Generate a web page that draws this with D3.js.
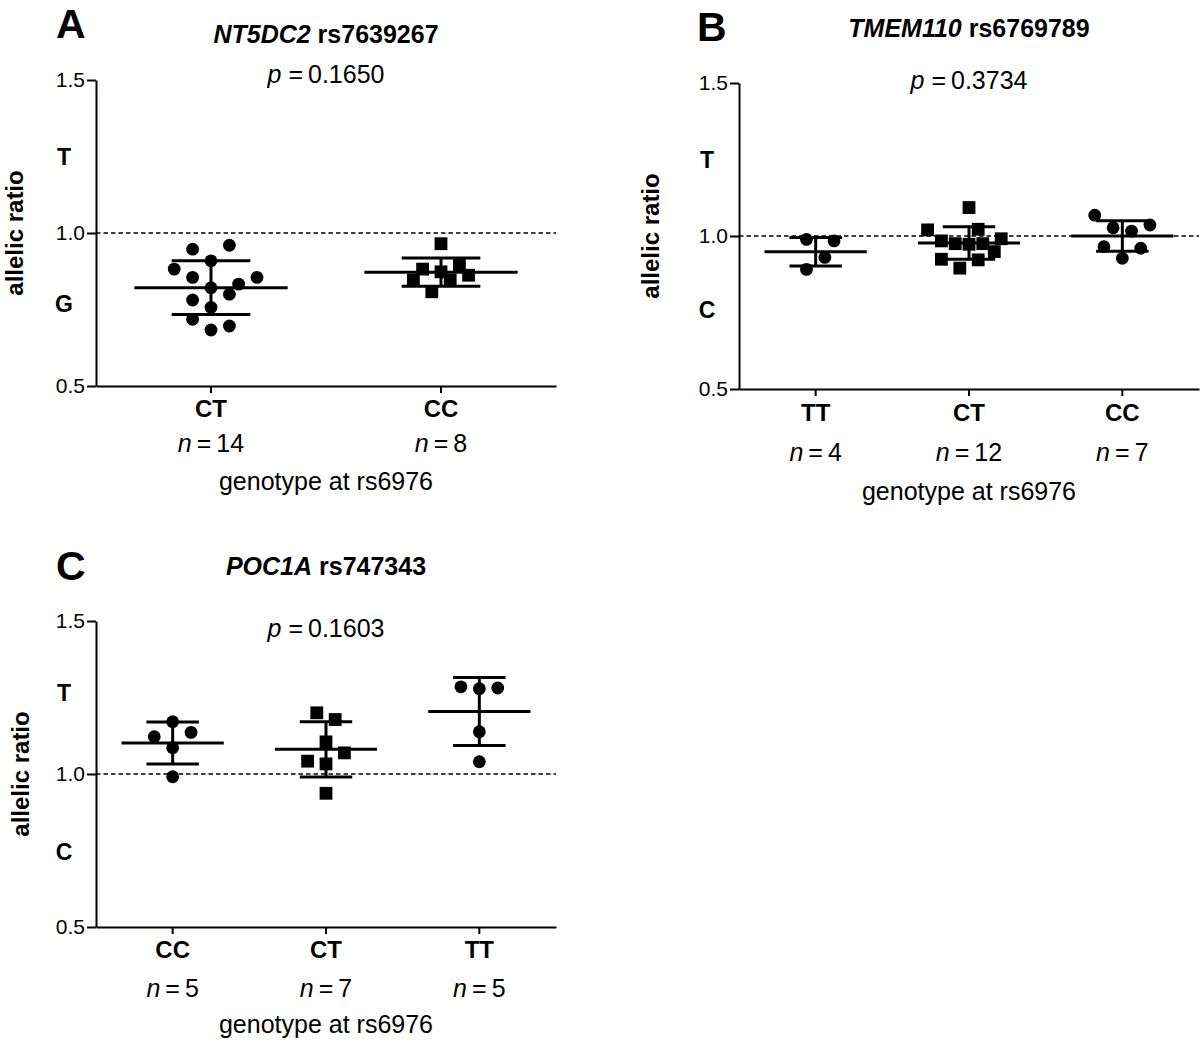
<!DOCTYPE html>
<html>
<head>
<meta charset="utf-8">
<script src="https://cdnjs.cloudflare.com/ajax/libs/d3/7.8.5/d3.min.js"></script>
<style>
  body { margin: 0; background: #fff; }
  svg { display: block; font-family: "Liberation Sans", Arial, Helvetica, sans-serif; }
</style>
</head>
<body>
<div id="figure"></div>
<script>
"use strict"

// Shared y axis ticks (allelic ratio)
const yTicks = [0.5, 1.0, 1.5];
const xAxisTitle = "genotype at rs6976";

// Panel A: NT5DC2 rs7639267
const genotypesA = ["CT", "CC"];
const symbolsA = ["circle", "square"];
const ratiosA_CT = [0.947, 0.960, 0.909, 0.882, 0.855, 0.855, 0.821, 0.833, 0.800, 0.781, 0.757, 0.718, 0.696, 0.683];
const ratiosA_CC = [0.965, 0.882, 0.895, 0.873, 0.862, 0.846, 0.846, 0.808];
// horizontal spread of the dots, in half-marker steps
const jitterA_CT = [-2, 2, 0, -4, -2, 5, 0, 3, 2, -2, 0, -2, 2, 0];
const jitterA_CC = [0, -2, 2, 0, 3, -3, 1, -1];
const allelesA = ["T", "G"];

// Panel B: TMEM110 rs6769789
const genotypesB = ["TT", "CT", "CC"];
const symbolsB = ["circle", "square", "circle"];
const ratiosB_TT = [0.989, 0.984, 0.930, 0.891];
const ratiosB_CT = [1.093, 1.020, 1.022, 0.984, 0.975, 0.973, 0.975, 0.991, 0.949, 0.924, 0.922, 0.895];
const ratiosB_CC = [1.068, 1.027, 1.036, 1.016, 0.965, 0.960, 0.927];
const jitterB_TT = [-1, 2, 1, -1];
const jitterB_CT = [0, -4.5, 1, -3, -1.5, 0, 1.5, 3.5, 2.75, -3, 1, -1];
const jitterB_CC = [-3, -1, 3, 1, -2, 2, 0];
const allelesB = ["T", "C"];

// Panel C: POC1A rs747343
const genotypesC = ["CC", "CT", "TT"];
const symbolsC = ["circle", "square", "circle"];
const ratiosC_CC = [1.171, 1.122, 1.136, 1.086, 0.991];
const ratiosC_CT = [1.200, 1.178, 1.105, 1.069, 1.042, 1.033, 0.937];
const ratiosC_TT = [1.285, 1.279, 1.281, 1.138, 1.040];
const jitterC_CC = [0, -2, 2, 0, 0];
const jitterC_CT = [-1, 1, 0, 2, -2, 0, 0];
const jitterC_TT = [-2, 0, 2, 0, 0];
const allelesC = ["T", "C"];

const panels = [
  {
    letter: "A", gene: "NT5DC2", snp: "rs7639267", p: "0.1650",
    genotypes: genotypesA, symbols: symbolsA, groups: [ratiosA_CT, ratiosA_CC], jitters: [jitterA_CT, jitterA_CC],
    alleles: allelesA, allelePos: [1.25, 0.77],
    frame: {left: 96, right: 556, top: 80, bottom: 386, letterX: 56, letterY: 38, titleY: 43,
            pY: 83, catY: 417, nY: 452, xLabelY: 490, yLabelX: 23}
  },
  {
    letter: "B", gene: "TMEM110", snp: "rs6769789", p: "0.3734",
    genotypes: genotypesB, symbols: symbolsB, groups: [ratiosB_TT, ratiosB_CT, ratiosB_CC], jitters: [jitterB_TT, jitterB_CT, jitterB_CC],
    alleles: allelesB, allelePos: [1.25, 0.76],
    frame: {left: 739, right: 1199, top: 83, bottom: 389, letterX: 697, letterY: 41, titleY: 37,
            pY: 89, catY: 421, nY: 461, xLabelY: 500, yLabelX: 659}
  },
  {
    letter: "C", gene: "POC1A", snp: "rs747343", p: "0.1603",
    genotypes: genotypesC, symbols: symbolsC, groups: [ratiosC_CC, ratiosC_CT, ratiosC_TT], jitters: [jitterC_CC, jitterC_CT, jitterC_TT],
    alleles: allelesC, allelePos: [1.265, 0.745],
    frame: {left: 96, right: 556, top: 621, bottom: 927, letterX: 56, letterY: 580, titleY: 575,
            pY: 637, catY: 958, nY: 997, xLabelY: 1033, yLabelX: 29}
  }
];

const width = 1200;
const height = 1041;

const svg = d3.select("#figure").append("svg")
  .attr("width", width)
  .attr("height", height);

panels.forEach(p => drawPanel(svg, p));

function drawPanel(svg, panel) {
  const f = panel.frame;
  const g = svg.append("g").attr("class", "panel");

  const x = d3.scaleBand()
    .domain(panel.genotypes)
    .range([f.left, f.right])
    .padding(0);

  const y = d3.scaleLinear()
    .domain([0.5, 1.5])
    .range([f.bottom, f.top]);

  const band = x.bandwidth();
  const step = 9.2;     // half of the dot spacing
  const markerR = 6.4;
  const midX = (f.left + f.right) / 2;

  // Panel letter
  g.append("text")
    .attr("x", f.letterX)
    .attr("y", f.letterY)
    .attr("font-size", 41)
    .attr("font-weight", "bold")
    .text(panel.letter);

  // Title: gene in italics, SNP upright
  const title = g.append("text")
    .attr("x", midX)
    .attr("y", f.titleY)
    .attr("text-anchor", "middle")
    .attr("font-size", 25)
    .attr("font-weight", "bold");
  title.append("tspan").attr("font-style", "italic").text(panel.gene);
  title.append("tspan").text(" " + panel.snp);

  // p value
  const pText = g.append("text")
    .attr("x", midX)
    .attr("y", f.pY)
    .attr("text-anchor", "middle")
    .attr("font-size", 25);
  pText.append("tspan").attr("font-style", "italic").text("p");
  pText.append("tspan").text(" =\u2009" + panel.p);

  // Reference line at ratio 1
  g.append("line")
    .attr("x1", f.left)
    .attr("x2", f.right)
    .attr("y1", y(1))
    .attr("y2", y(1))
    .attr("stroke", "#000")
    .attr("stroke-width", 1.6)
    .attr("stroke-dasharray", "4.5,3");

  // Axes
  const yAxis = d3.axisLeft(y)
    .tickValues(yTicks)
    .tickFormat(d3.format(".1f"))
    .tickSize(9)
    .tickSizeOuter(0)
    .tickPadding(2);

  const xAxis = d3.axisBottom(x)
    .tickSize(7)
    .tickSizeOuter(0)
    .tickFormat("");

  const ya = g.append("g")
    .attr("transform", `translate(${f.left},0)`)
    .call(yAxis);
  ya.selectAll("text")
    .attr("font-size", 21)
    .attr("fill", "#000");

  const xa = g.append("g")
    .attr("transform", `translate(0,${f.bottom})`)
    .call(xAxis);

  [ya, xa].forEach(a => {
    a.attr("font-family", null);
    a.select(".domain").attr("stroke-width", 2).attr("stroke", "#000");
    a.selectAll(".tick line").attr("stroke-width", 2).attr("stroke", "#000");
  });

  // Allele labels on the y axis
  g.selectAll(".allele")
    .data(panel.alleles)
    .enter().append("text")
      .attr("class", "allele")
      .attr("x", f.left - 32)
      .attr("y", (d, i) => y(panel.allelePos[i]))
      .attr("dy", "0.36em")
      .attr("text-anchor", "middle")
      .attr("font-size", 23)
      .attr("font-weight", "bold")
      .text(d => d);

  // y axis title
  g.append("text")
    .attr("transform", `translate(${f.yLabelX},${y(1)}) rotate(-90)`)
    .attr("text-anchor", "middle")
    .attr("font-size", 24)
    .attr("font-weight", "bold")
    .text("allelic ratio");

  // Category labels and group sizes
  panel.genotypes.forEach((geno, i) => {
    const cx = x(geno) + band / 2;
    g.append("text")
      .attr("x", cx)
      .attr("y", f.catY)
      .attr("text-anchor", "middle")
      .attr("font-size", 24)
      .attr("font-weight", "bold")
      .text(geno);

    const nText = g.append("text")
      .attr("x", cx)
      .attr("y", f.nY)
      .attr("text-anchor", "middle")
      .attr("font-size", 25);
    nText.append("tspan").attr("font-style", "italic").text("n");
    nText.append("tspan").text("\u2009=\u2009" + panel.groups[i].length);
  });

  // x axis title
  g.append("text")
    .attr("x", midX)
    .attr("y", f.xLabelY)
    .attr("text-anchor", "middle")
    .attr("font-size", 25)
    .text(xAxisTitle);

  // Dots and mean +/- SD bars
  panel.genotypes.forEach((geno, i) => {
    const values = panel.groups[i];
    const jit = panel.jitters[i];
    const cx = x(geno) + band / 2;
    const mean = d3.mean(values);
    const sd = d3.deviation(values);

    const pts = values.map((v, k) => ({v: v, dx: jit[k]}));

    if (panel.symbols[i] === "square") {
      g.selectAll(null)
        .data(pts)
        .enter().append("rect")
          .attr("x", d => cx + d.dx * step - markerR)
          .attr("y", d => y(d.v) - markerR)
          .attr("width", markerR * 2)
          .attr("height", markerR * 2)
          .attr("fill", "#000");
    } else {
      g.selectAll(null)
        .data(pts)
        .enter().append("circle")
          .attr("cx", d => cx + d.dx * step)
          .attr("cy", d => y(d.v))
          .attr("r", markerR)
          .attr("fill", "#000");
    }

    const bars = g.append("g")
      .attr("stroke", "#000")
      .attr("stroke-width", 3);

    // mean line
    bars.append("line")
      .attr("x1", cx - band / 3)
      .attr("x2", cx + band / 3)
      .attr("y1", y(mean))
      .attr("y2", y(mean));

    // SD whisker
    bars.append("line")
      .attr("x1", cx)
      .attr("x2", cx)
      .attr("y1", y(mean + sd))
      .attr("y2", y(mean - sd));

    [mean + sd, mean - sd].forEach(v => {
      bars.append("line")
        .attr("x1", cx - band * 0.171)
        .attr("x2", cx + band * 0.171)
        .attr("y1", y(v))
        .attr("y2", y(v));
    });
  });
}
</script>
</body>
</html>
